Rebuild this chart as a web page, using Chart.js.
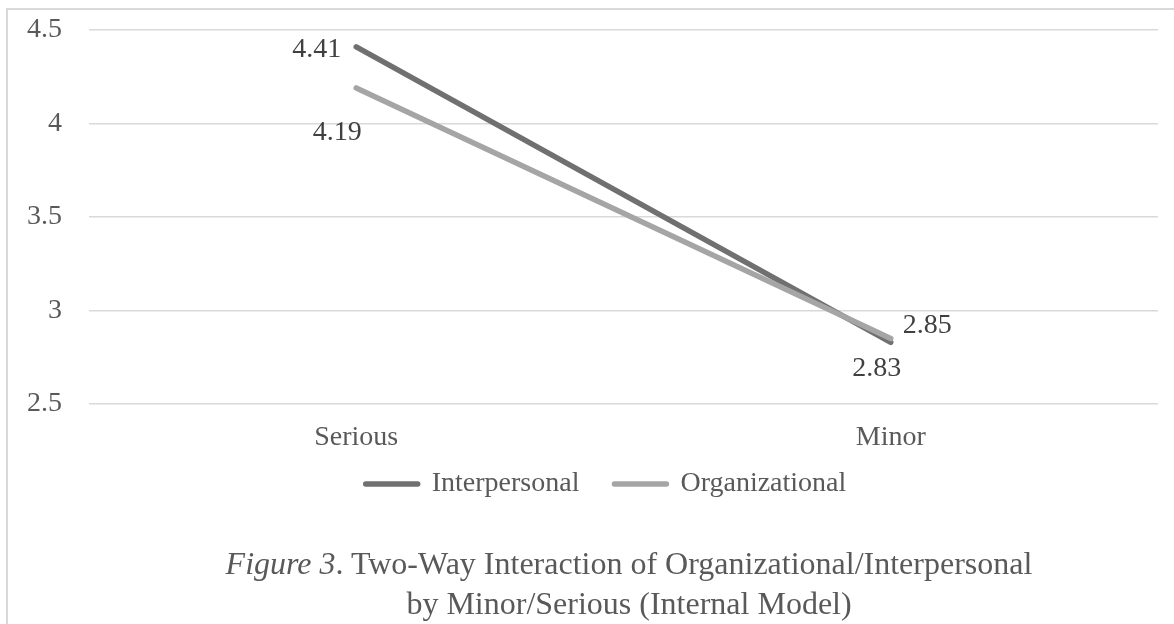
<!DOCTYPE html>
<html>
<head>
<meta charset="utf-8">
<script src="https://cdn.jsdelivr.net/npm/chart.js@4.4.1/dist/chart.umd.min.js"></script>
<style>
  html, body { margin: 0; padding: 0; background: #ffffff; }
  #wrap { position: relative; width: 1174px; height: 624px; overflow: hidden; }
  #frame {
    position: absolute; left: 6px; top: 8px; right: 0; bottom: 0;
    border-left: 2px solid #d9d9d9; border-top: 2px solid #d9d9d9;
  }
  #chart { position: absolute; left: 0; top: 0; }
  #caption {
    position: absolute; left: 129px; width: 1000px; top: 543px;
    text-align: center; font-family: "Liberation Serif", "Times New Roman", serif;
    font-size: 32px; line-height: 40px; color: #595959;
  }
</style>
</head>
<body>
<div id="wrap">
  <div id="frame"></div>
  <canvas id="chart" width="1174" height="624"></canvas>
  <div id="caption"><i>Figure 3</i>. Two-Way Interaction of Organizational/Interpersonal<br>by Minor/Serious (Internal Model)</div>
</div>
<script>
// Severity levels on the x axis
const categories = ["Serious", "Minor"];
// Mean ratings per violation type
const interpersonal = [4.41, 2.83];
const organizational = [4.19, 2.85];
const seriesNames = ["Interpersonal", "Organizational"];
// Value axis range
const yMin = 2.5, yMax = 4.5, yStep = 0.5;

const serif = "'Liberation Serif', 'Times New Roman', serif";

// Writes each point's value next to it, using the scale position of the point
const valueLabels = {
  id: 'valueLabels',
  afterDatasetsDraw(chart, args, opts) {
    const ctx = chart.ctx;
    ctx.save();
    ctx.font = `28px ${serif}`;
    ctx.fillStyle = '#404040';
    ctx.textBaseline = 'alphabetic';
    chart.data.datasets.forEach((ds, di) => {
      const meta = chart.getDatasetMeta(di);
      const place = opts.placement[di];
      meta.data.forEach((pt, i) => {
        const p = place[i];
        ctx.textAlign = p.align;
        ctx.fillText(ds.data[i].toFixed(2), pt.x + p.dx, pt.y + p.dy);
      });
    });
    ctx.restore();
  }
};

// Nudges the legend box after layout so it sits just under the axis labels
const legendNudge = {
  id: 'legendNudge',
  afterLayout(chart, args, opts) {
    const lg = chart.legend;
    if (!lg) return;
    lg.left += opts.dx; lg.right += opts.dx;
    lg.top += opts.dy; lg.bottom += opts.dy;
  }
};

new Chart(document.getElementById('chart'), {
  type: 'line',
  data: {
    labels: categories,
    datasets: [
      {
        label: seriesNames[0], data: interpersonal,
        borderColor: '#707070', backgroundColor: '#707070',
        borderWidth: 5.5, borderCapStyle: 'round', pointRadius: 0, tension: 0, order: 1
      },
      {
        label: seriesNames[1], data: organizational,
        borderColor: '#a5a5a5', backgroundColor: '#a5a5a5',
        borderWidth: 5.5, borderCapStyle: 'round', pointRadius: 0, tension: 0, order: 0
      }
    ]
  },
  options: {
    responsive: false,
    animation: false,
    events: [],
    layout: { padding: { left: 0, right: 16, top: 30, bottom: 101 } },
    scales: {
      x: {
        offset: true,
        grid: { display: false, drawTicks: false },
        border: { display: false },
        ticks: { color: '#595959', font: { family: serif, size: 28 }, padding: 17 },
        afterFit(axis) { axis.height = 46; }
      },
      y: {
        min: yMin, max: yMax,
        grid: { color: '#d9d9d9', lineWidth: 1.5, drawTicks: false },
        border: { display: false },
        ticks: {
          stepSize: yStep, color: '#595959', font: { family: serif, size: 28 }, padding: 27,
          callback: (v) => String(Number(v.toFixed(2)))
        },
        afterFit(axis) {
          axis.width = 89;
          axis.paddingTop = 0;
          axis.paddingBottom = 0;
        }
      }
    },
    plugins: {
      tooltip: { enabled: false },
      legend: {
        position: 'bottom',
        labels: {
          color: '#595959',
          font: { family: serif, size: 28 },
          usePointStyle: true,
          pointStyleWidth: 52,
          padding: 35,
          generateLabels(chart) {
            return chart.data.datasets.map((ds, i) => ({
              text: ds.label,
              datasetIndex: i,
              pointStyle: 'line',
              strokeStyle: ds.borderColor,
              fillStyle: ds.borderColor,
              lineWidth: 5.5,
              lineCap: 'round',
              fontColor: '#595959',
              hidden: false
            }));
          }
        }
      },
      legendNudge: { dx: 27, dy: -15 },
      valueLabels: {
        placement: [
          [ { dx: -15, dy: 10, align: 'right' }, { dx: -14, dy: 34, align: 'center' } ],
          [ { dx: -19, dy: 52, align: 'center' }, { dx: 12, dy: -6, align: 'left' } ]
        ]
      }
    }
  },
  plugins: [valueLabels, legendNudge]
});
</script>
</body>
</html>
